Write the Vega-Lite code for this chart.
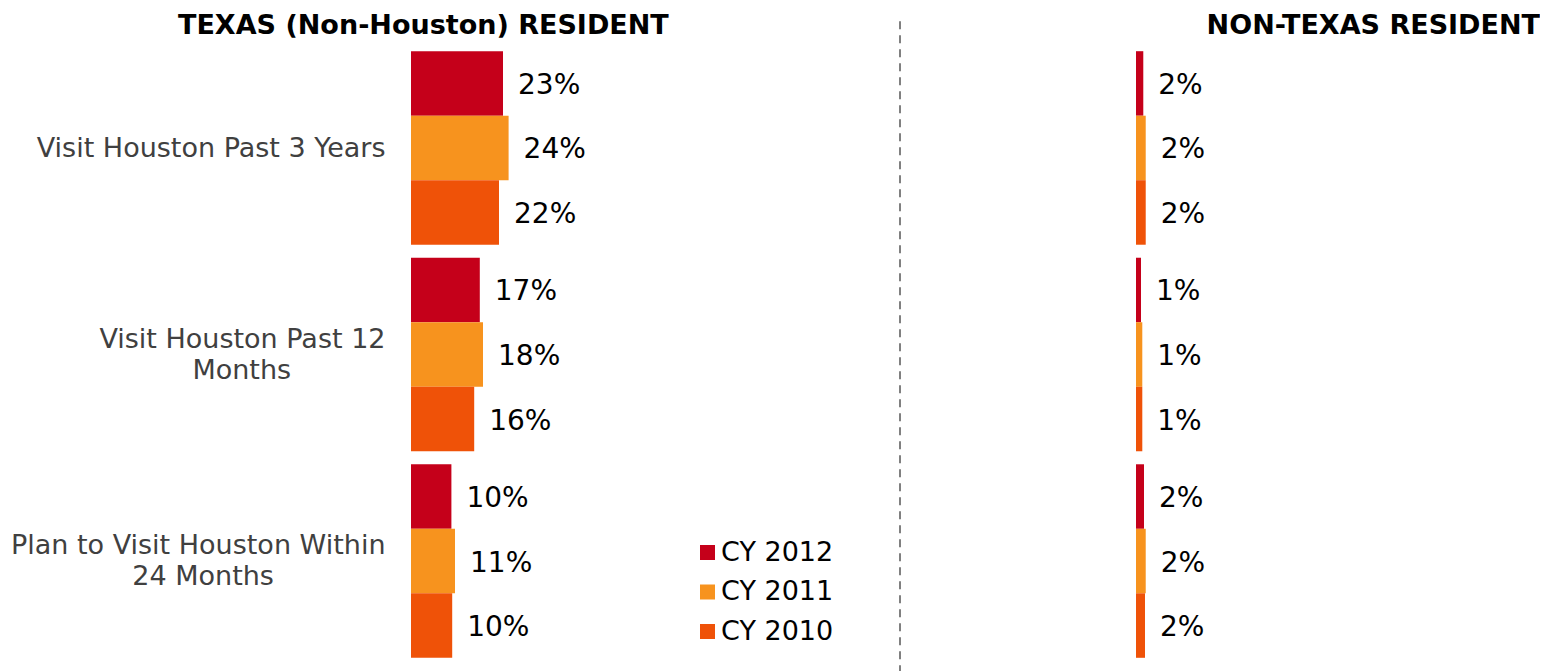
{
  "$schema": "https://vega.github.io/schema/vega-lite/v6.json",
  "padding": {"left": 10, "top": 12, "right": 0, "bottom": 0},
  "background": "white",
  "bounds": "flush",
  "spacing": 89,
  "config": {"font": "DejaVu Sans", "view": {"stroke": null}},
  "datasets": {
    "survey": [
      {"panel": "Texas", "measure": "Visit Houston Past 3 Years", "year": "CY 2012", "share": 0.230},
      {"panel": "Texas", "measure": "Visit Houston Past 3 Years", "year": "CY 2011", "share": 0.244},
      {"panel": "Texas", "measure": "Visit Houston Past 3 Years", "year": "CY 2010", "share": 0.220},
      {"panel": "Texas", "measure": "Visit Houston Past 12 Months", "year": "CY 2012", "share": 0.172},
      {"panel": "Texas", "measure": "Visit Houston Past 12 Months", "year": "CY 2011", "share": 0.180},
      {"panel": "Texas", "measure": "Visit Houston Past 12 Months", "year": "CY 2010", "share": 0.158},
      {"panel": "Texas", "measure": "Plan to Visit Houston Within 24 Months", "year": "CY 2012", "share": 0.101},
      {"panel": "Texas", "measure": "Plan to Visit Houston Within 24 Months", "year": "CY 2011", "share": 0.110},
      {"panel": "Texas", "measure": "Plan to Visit Houston Within 24 Months", "year": "CY 2010", "share": 0.103},
      {"panel": "Non-Texas", "measure": "Visit Houston Past 3 Years", "year": "CY 2012", "share": 0.0162},
      {"panel": "Non-Texas", "measure": "Visit Houston Past 3 Years", "year": "CY 2011", "share": 0.0216},
      {"panel": "Non-Texas", "measure": "Visit Houston Past 3 Years", "year": "CY 2010", "share": 0.0216},
      {"panel": "Non-Texas", "measure": "Visit Houston Past 12 Months", "year": "CY 2012", "share": 0.0111},
      {"panel": "Non-Texas", "measure": "Visit Houston Past 12 Months", "year": "CY 2011", "share": 0.0140},
      {"panel": "Non-Texas", "measure": "Visit Houston Past 12 Months", "year": "CY 2010", "share": 0.0140},
      {"panel": "Non-Texas", "measure": "Plan to Visit Houston Within 24 Months", "year": "CY 2012", "share": 0.0178},
      {"panel": "Non-Texas", "measure": "Plan to Visit Houston Within 24 Months", "year": "CY 2011", "share": 0.0216},
      {"panel": "Non-Texas", "measure": "Plan to Visit Houston Within 24 Months", "year": "CY 2010", "share": 0.0200}
    ]
  },
  "resolve": {"scale": {"color": "shared"}, "legend": {"color": "shared"}},
  "hconcat": [
    {
      "width": 400,
      "height": 619,
      "title": {"text": "TEXAS (Non-Houston) RESIDENT", "anchor": "start", "frame": "group", "dx": -233, "fontSize": 27, "fontWeight": "bold", "color": "#000000", "baseline": "alphabetic", "offset": -16, "font": "DejaVu Sans"},
      "data": {"name": "survey"},
      "transform": [{"filter": "datum.panel == 'Texas'"}],
      "encoding": {
        "y": {
          "field": "measure", "type": "nominal",
          "sort": ["Visit Houston Past 3 Years", "Visit Houston Past 12 Months", "Plan to Visit Houston Within 24 Months"],
          "scale": {"paddingInner": 0.063, "paddingOuter": 0.03},
          "axis": {
            "title": null, "domain": false, "ticks": false, "labelPadding": 26,
            "labelFontSize": 27, "labelColor": "#404040", "labelLineHeight": 31, "labelLimit": 0,
            "labelOffset": {"condition": {"test": "datum.value == 'Visit Houston Past 3 Years'", "value": 1.5}, "value": -15},
            "labelExpr": "datum.value == 'Visit Houston Past 12 Months' ? ['Visit Houston Past 12', 'Months\u00a0\u00a0\u00a0\u00a0\u00a0\u00a0\u00a0\u00a0\u00a0\u00a0\u00a0\u200b'] : datum.value == 'Plan to Visit Houston Within 24 Months' ? ['Plan to Visit Houston Within', '24 Months\u00a0\u00a0\u00a0\u00a0\u00a0\u00a0\u00a0\u00a0\u00a0\u00a0\u00a0\u00a0\u00a0\u200b'] : datum.value"
          }
        },
        "yOffset": {"field": "year", "type": "nominal", "sort": ["CY 2012", "CY 2011", "CY 2010"], "scale": {"paddingInner": 0, "paddingOuter": 0}},
        "x": {"field": "share", "type": "quantitative", "scale": {"domain": [0, 1], "nice": false}, "axis": null}
      },
      "layer": [
        {
          "mark": {"type": "bar"},
          "encoding": {
            "color": {
              "field": "year", "type": "nominal",
              "scale": {"domain": ["CY 2012", "CY 2011", "CY 2010"], "range": ["#C5001A", "#F7931E", "#EF5208"]},
              "legend": {
                "title": null, "orient": "none", "legendX": 283, "legendY": 494,
                "symbolType": "square", "symbolSize": 225, "symbolStrokeWidth": 0,
                "labelFontSize": 27, "labelColor": "#000000", "rowPadding": 11.5, "labelOffset": 0
              }
            }
          }
        },
        {
          "mark": {"type": "text", "align": "left", "baseline": "middle", "dx": 15, "dy": 2.5, "fontSize": 28, "color": "#000000"},
          "encoding": {"text": {"field": "share", "type": "quantitative", "format": ".0%"}}
        }
      ]
    },
    {
      "width": 147,
      "height": 619,
      "data": {"values": [{"divider": "panels"}]},
      "mark": {"type": "rule", "color": "#808080", "strokeWidth": 2, "strokeDash": [8, 6]},
      "encoding": {
        "x": {"datum": 0, "type": "quantitative", "scale": {"domain": [0, 1], "nice": false}, "axis": null},
        "y": {"datum": 1.0385, "type": "quantitative", "scale": {"domain": [0, 1], "nice": false, "zero": false}, "axis": null},
        "y2": {"datum": -0.0121}
      }
    },
    {
      "width": 404,
      "height": 619,
      "title": {"text": "NON-TEXAS RESIDENT", "anchor": "end", "frame": "group", "fontSize": 27, "fontWeight": "bold", "color": "#000000", "baseline": "alphabetic", "offset": -16, "font": "DejaVu Sans"},
      "data": {"name": "survey"},
      "transform": [{"filter": "datum.panel == 'Non-Texas'"}],
      "encoding": {
        "y": {
          "field": "measure", "type": "nominal",
          "sort": ["Visit Houston Past 3 Years", "Visit Houston Past 12 Months", "Plan to Visit Houston Within 24 Months"],
          "scale": {"paddingInner": 0.063, "paddingOuter": 0.03},
          "axis": null
        },
        "yOffset": {"field": "year", "type": "nominal", "sort": ["CY 2012", "CY 2011", "CY 2010"], "scale": {"paddingInner": 0, "paddingOuter": 0}},
        "x": {"field": "share", "type": "quantitative", "scale": {"domain": [0, 0.8978], "nice": false}, "axis": null}
      },
      "layer": [
        {
          "mark": {"type": "bar"},
          "encoding": {
            "color": {
              "field": "year", "type": "nominal",
              "scale": {"domain": ["CY 2012", "CY 2011", "CY 2010"], "range": ["#C5001A", "#F7931E", "#EF5208"]}
            }
          }
        },
        {
          "mark": {"type": "text", "align": "left", "baseline": "middle", "dx": 15, "dy": 2.5, "fontSize": 28, "color": "#000000"},
          "encoding": {"text": {"field": "share", "type": "quantitative", "format": ".0%"}}
        }
      ]
    }
  ]
}
